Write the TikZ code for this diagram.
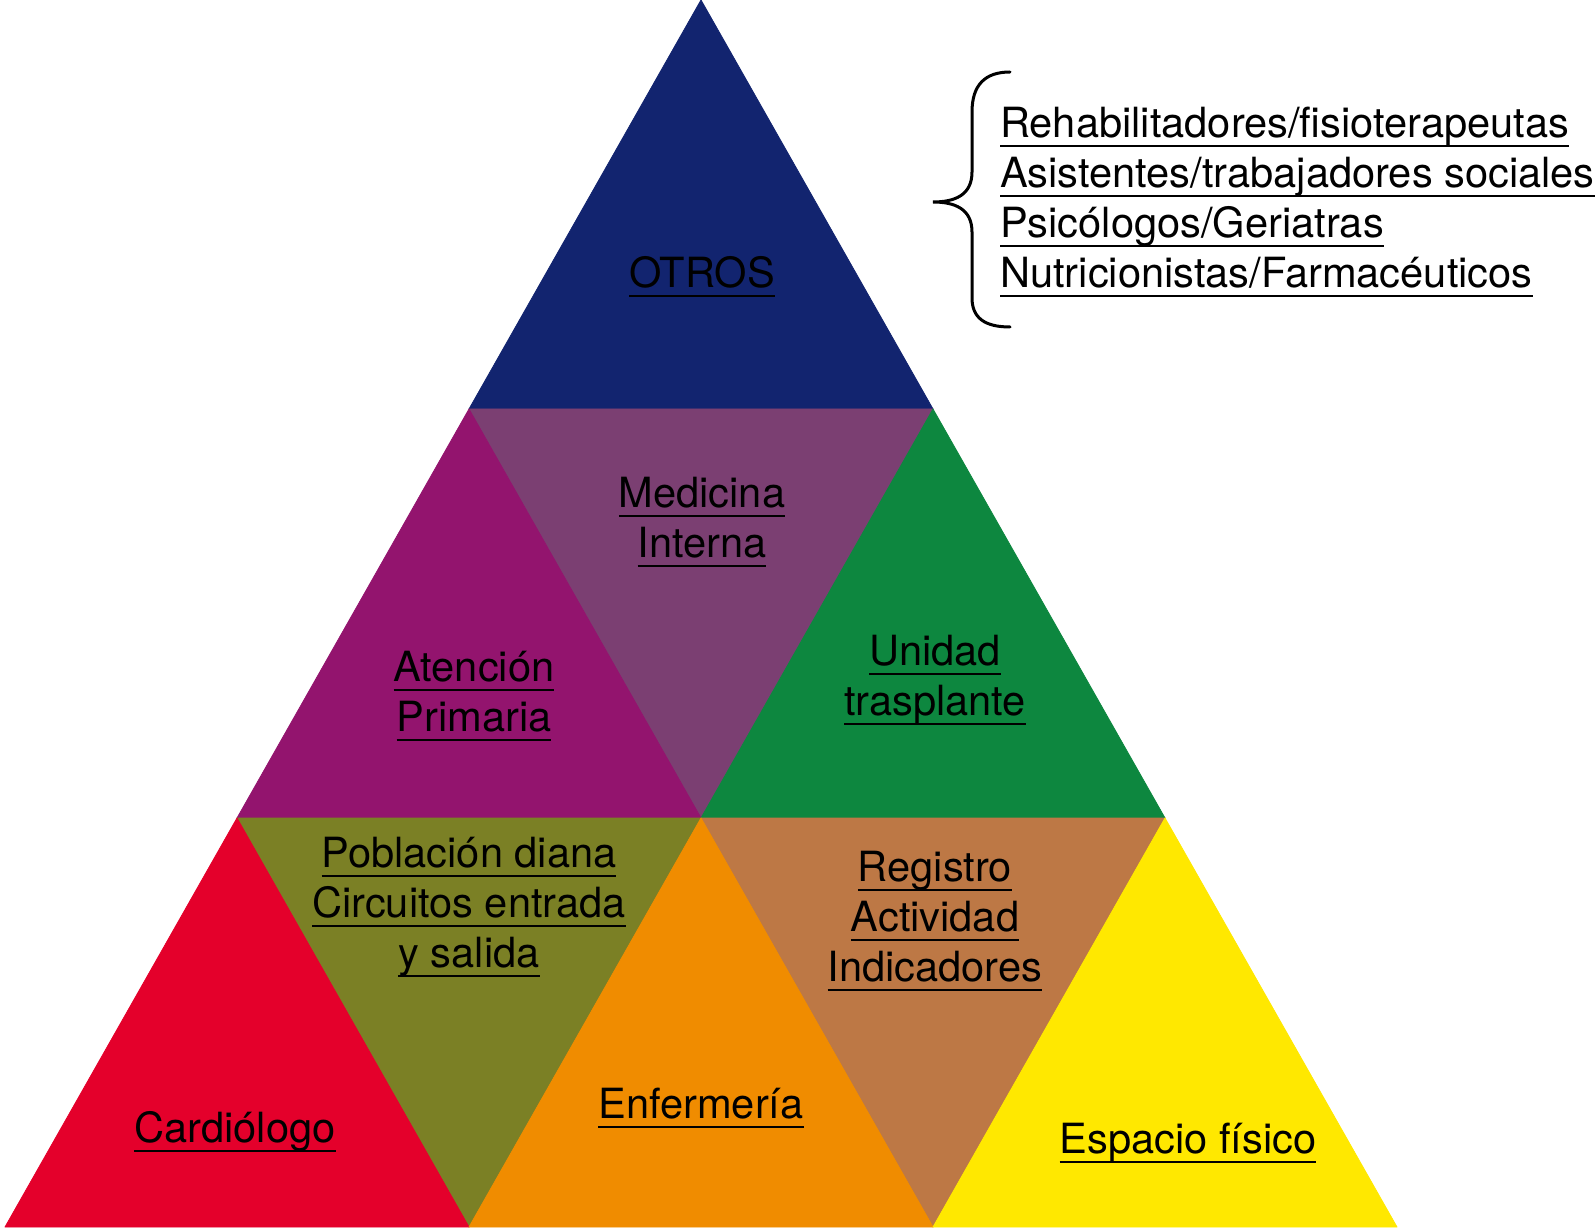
\documentclass[tikz,border=0pt]{standalone}
\usepackage{fontspec}
\setmainfont{TeX Gyre Heros}
\definecolor{cnavy}{HTML}{12246F}
\definecolor{cpurple}{HTML}{93146E}
\definecolor{cmauve}{HTML}{7B3F72}
\definecolor{cgreen}{HTML}{0D873F}
\definecolor{cred}{HTML}{E4002B}
\definecolor{colive}{HTML}{7B8025}
\definecolor{corange}{HTML}{F08C00}
\definecolor{cbrown}{HTML}{BD7845}
\definecolor{cyellow}{HTML}{FFE800}
\newcommand\myul[1]{\vtop{\hbox{\raisebox{0pt}[\height][0pt]{#1}}\kern7.5pt\hrule height 2.4pt}}
\begin{document}
\begin{tikzpicture}[x=1pt,y=-1pt,
  tri/.style={line width=0.8pt,line join=round},
  lbl/.style={font=\fontsize{41.6}{50}\selectfont,align=center,inner sep=0pt,text=black},
  lst/.style={font=\fontsize{41.6}{50}\selectfont,align=left,inner sep=0pt,anchor=west,text=black}]
\useasboundingbox (0,0) rectangle (1596,1230);
\coordinate (A) at (701,0);
\coordinate (L1) at (469,409);
\coordinate (R1) at (933,409);
\coordinate (L2) at (237,818);
\coordinate (M2) at (701,818);
\coordinate (R2) at (1165,818);
\coordinate (L3) at (5,1227);
\coordinate (M3a) at (469,1227);
\coordinate (M3b) at (933,1227);
\coordinate (R3) at (1397,1227);
\filldraw[tri,fill=cnavy,draw=cnavy] (A) -- (L1) -- (R1) -- cycle;
\filldraw[tri,fill=cmauve,draw=cmauve] (L1) -- (R1) -- (M2) -- cycle;
\filldraw[tri,fill=cpurple,draw=cpurple] (L1) -- (L2) -- (M2) -- cycle;
\filldraw[tri,fill=cgreen,draw=cgreen] (R1) -- (M2) -- (R2) -- cycle;
\filldraw[tri,fill=colive,draw=colive] (L2) -- (M2) -- (M3a) -- cycle;
\filldraw[tri,fill=cbrown,draw=cbrown] (M2) -- (R2) -- (M3b) -- cycle;
\filldraw[tri,fill=cred,draw=cred] (L2) -- (L3) -- (M3a) -- cycle;
\filldraw[tri,fill=corange,draw=corange] (M2) -- (M3a) -- (M3b) -- cycle;
\filldraw[tri,fill=cyellow,draw=cyellow] (R2) -- (M3b) -- (R3) -- cycle;

\node[lbl] (otros) at (702,277) {\myul{OTROS}};
\node[lbl] (medicina) at (702,522) {\myul{Medicina}\\\myul{Interna}};
\node[lbl] (atencion) at (474,696) {\myul{Atención}\\\myul{Primaria}};
\node[lbl] (unidad) at (935,680) {\myul{Unidad}\\\myul{trasplante}};
\node[lbl] (poblacion) at (469,907) {\myul{Población diana}\\\myul{Circuitos entrada}\\\myul{y salida}};
\node[lbl] (registro) at (935,921) {\myul{Registro}\\\myul{Actividad}\\\myul{Indicadores}};
\node[lbl] (cardio) at (235,1132) {\myul{Cardiólogo}};
\node[lbl] (enfer) at (701,1108) {\myul{Enfermería}};
\node[lbl] (espacio) at (1188,1143) {\myul{Espacio físico}};

\node[lst] (lista) at (1000,202) {\myul{Rehabilitadores/fisioterapeutas}\\\myul{Asistentes/trabajadores sociales}\\\myul{Psicólogos/Geriatras}\\\myul{Nutricionistas/Farmacéuticos}};

\draw[line width=3pt,line cap=round] (1010,72) .. controls (985,72) and (972,85) .. (972,112) -- (972,172) .. controls (972,195) and (955,202) .. (933,202) .. controls (955,202) and (972,209) .. (972,232) -- (972,298) .. controls (972,318) and (985,327) .. (1010,327);
\end{tikzpicture}
\end{document}
